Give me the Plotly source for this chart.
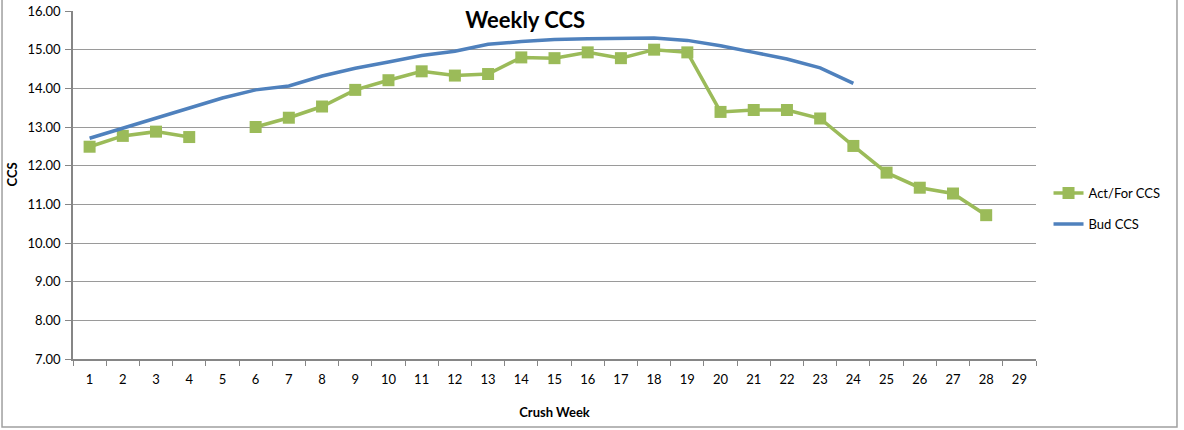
import plotly.graph_objects as go

weeks = [str(w) for w in range(1, 30)]
act_for_ccs = [12.49, 12.77, 12.88, 12.74, None, 13.00, 13.24, 13.53, 13.96, 14.21,
               14.44, 14.33, 14.37, 14.80, 14.78, 14.93, 14.78, 15.00, 14.93, 13.39,
               13.44, 13.44, 13.22, 12.51, 11.82, 11.43, 11.28, 10.72, None]
bud_ccs = [12.71, 12.97, 13.22, 13.49, 13.75, 13.96, 14.06, 14.32, 14.52, 14.68,
           14.85, 14.96, 15.14, 15.21, 15.26, 15.28, 15.30, 15.30, 15.24, 15.10,
           14.93, 14.76, 14.53, 14.13, None, None, None, None, None]
y_ticks = [7, 8, 9, 10, 11, 12, 13, 14, 15, 16]

FONT = "Lato"
fig = go.Figure()
fig.add_trace(go.Scatter(
    x=weeks, y=act_for_ccs, name="Act/For CCS", mode="lines+markers",
    legendgroup="a",
    line=dict(color="#9BBB59", width=3.5),
    marker=dict(symbol="square", size=12, color="#9BBB59"),
    connectgaps=False))
fig.add_trace(go.Scatter(
    x=weeks, y=bud_ccs, name="Bud CCS", mode="lines",
    legendgroup="b",
    line=dict(color="#4F81BD", width=3.5),
    connectgaps=False))

fig.update_layout(
    width=1184, height=430,
    margin=dict(l=73, r=148, t=11, b=71),
    paper_bgcolor="white", plot_bgcolor="white",
    font=dict(family=FONT, size=13, color="black"),
    title=dict(text="<b>Weekly CCS</b>", x=0.4436, xanchor="center",
               y=0.953, yanchor="middle", font=dict(size=22, family=FONT)),
    legend=dict(x=1.013, y=0.52, xanchor="left", yanchor="top",
                font=dict(size=13, family=FONT), tracegroupgap=11,
                itemwidth=30, bgcolor="rgba(0,0,0,0)"),
    showlegend=True,
)
fig.update_xaxes(
    type="category", range=[-0.5, 28.5], autorange=False,
    tickson="boundaries", ticks="outside", ticklen=5,
    tickcolor="#868686", showline=True, linecolor="#868686", linewidth=1.5,
    showgrid=False, tickfont=dict(size=13), automargin=False,
    ticklabelstandoff=8,
    title=dict(text="<b>Crush Week</b>", font=dict(size=13), standoff=22),
)
fig.update_yaxes(
    range=[7, 16], tickvals=y_ticks, tickformat=".2f",
    ticks="outside", ticklen=6, tickcolor="#868686",
    showline=True, linecolor="#868686", linewidth=1.5,
    showgrid=True, gridcolor="#9a9a9a", gridwidth=1,
    zeroline=False, tickfont=dict(size=13), automargin=False,
    ticklabelstandoff=2,
)
fig.add_annotation(text="<b>CCS</b>", xref="paper", yref="paper",
                   x=-0.0635, xanchor="center", y=0.53, textangle=-90, showarrow=False,
                   font=dict(size=13, family=FONT))
# outer chart frame
fig.add_shape(type="rect", xref="paper", yref="paper",
              x0=-0.0737, x1=1.1464, y0=-0.1957, y1=1.2,
              line=dict(color="#a0a0a0", width=1.5), fillcolor="rgba(0,0,0,0)", layer="below")

fig.write_html("out.html", config={"displayModeBar": False},
               post_script="document.body.style.margin='0';")
